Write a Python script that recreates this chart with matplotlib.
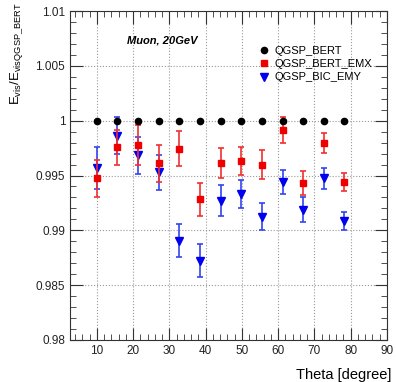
import numpy as np
import matplotlib
matplotlib.use('Agg')
import matplotlib.pyplot as plt
from matplotlib.ticker import MultipleLocator, FuncFormatter

plt.rcParams['font.family'] = ['Liberation Sans', 'DejaVu Sans']
plt.rcParams['mathtext.fontset'] = 'custom'
plt.rcParams['mathtext.rm'] = 'Liberation Sans'

# angles (degrees)
theta = [9.9, 15.6, 21.3, 27.0, 32.7, 38.4, 44.1, 49.8, 55.5, 61.2, 66.9, 72.6, 78.3]

# ratios to QGSP_BERT
bert = [1.0] * 13
emx = [0.99474, 0.99759, 0.99777, 0.99611, 0.99745, 0.99284, 0.99614, 0.99632,
       0.99600, 0.99918, 0.99435, 0.99797, 0.99443]
emx_err = [0.0017, 0.0016, 0.0018, 0.0017, 0.0016, 0.0015, 0.0014, 0.0013,
           0.0013, 0.0012, 0.0011, 0.00094, 0.0008]
emy = [0.99569, 0.99865, 0.99683, 0.99529, 0.98905, 0.98721, 0.99272, 0.99330,
       0.99125, 0.99439, 0.99190, 0.99476, 0.99084]
emy_err = [0.0019, 0.0017, 0.0017, 0.0016, 0.0015, 0.0015, 0.0014, 0.0013,
           0.0012, 0.0011, 0.0011, 0.00096, 0.0008]

fig = plt.figure(figsize=(3.96, 3.82), dpi=100)
ax = fig.add_axes([0.177, 0.11, 0.8, 0.861])

e_emy = ax.errorbar(theta, emy, yerr=emy_err, fmt='v', color='#0000ee', ms=5.5,
                    ecolor='#3344ee', elinewidth=1.2, capsize=2, capthick=1.2, zorder=3)
e_emx = ax.errorbar(theta, emx, yerr=emx_err, fmt='s', color='#ee0000', ms=5,
                    ecolor='#f03030', elinewidth=1.2, capsize=2, capthick=1.2, zorder=4)
p_bert, = ax.plot(theta, bert, 'o', color='black', ms=4.5, zorder=5)

ax.set_xlim(2.6, 90)
ax.set_ylim(0.98, 1.01)
ax.xaxis.set_major_locator(MultipleLocator(10))
ax.xaxis.set_minor_locator(MultipleLocator(2))
ax.yaxis.set_major_locator(MultipleLocator(0.005))
ax.yaxis.set_minor_locator(MultipleLocator(0.001))
ax.yaxis.set_major_formatter(FuncFormatter(lambda v, p: '%g' % round(v, 4)))
ax.tick_params(which='both', direction='in', top=True, right=True,
               labelsize=8.5, colors='#333333', labelcolor='#222222')
ax.tick_params(which='major', length=9)
ax.tick_params(which='minor', length=4.5)
ax.grid(True, which='major', linestyle=':', color='#999999', linewidth=0.8)
for s in ax.spines.values():
    s.set_color('#333333')

ax.set_ylabel(r'$\mathregular{E_{vis}/E_{visQGSP\_BERT}}$', fontsize=9.5)
ax.yaxis.set_label_coords(-0.142, 0.872)
ax.set_xlabel('Theta [degree]', fontsize=10.5)
ax.xaxis.set_label_coords(1.015, -0.085)
ax.xaxis.label.set_horizontalalignment('right')

ax.text(0.18, 0.902, 'Muon, 20GeV', transform=ax.transAxes, fontsize=8,
        fontweight='bold', fontstyle='italic')

ax.legend([p_bert, e_emx[0], e_emy[0]],
          ['QGSP_BERT', 'QGSP_BERT_EMX', 'QGSP_BIC_EMY'], loc='upper left',
          bbox_to_anchor=(0.585, 0.908), frameon=False, fontsize=8,
          handlelength=0.8, handletextpad=0.5, labelspacing=0.3,
          borderaxespad=0)

fig.savefig('out.png', dpi=100)
